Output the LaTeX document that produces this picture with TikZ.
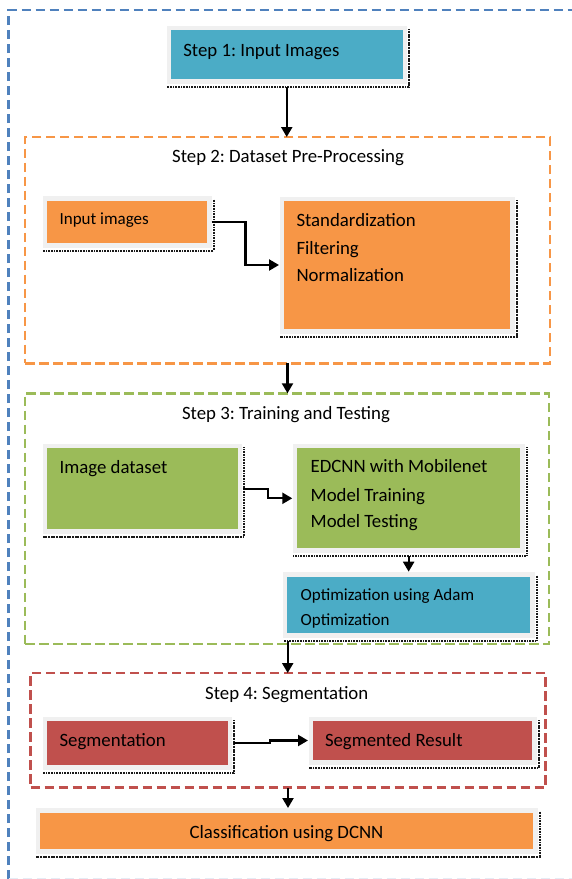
\documentclass[tikz,border=0pt]{standalone}
\usepackage{fontspec}
\setmainfont{Carlito}
\usetikzlibrary{calc,arrows.meta}
\definecolor{cteal}{HTML}{4BACC6}
\definecolor{corange}{HTML}{F79646}
\definecolor{cgreen}{HTML}{9BBB59}
\definecolor{cred}{HTML}{C0504D}
\definecolor{cblue}{HTML}{4F81BD}
\definecolor{cframe}{HTML}{F0F0F0}
\tikzset{
  boxnode/.style={rectangle, inner sep=0pt, outer sep=0pt, fill=#1,
    preaction={draw=cframe, line width=9pt}},
  secbox/.style={rectangle, inner sep=0pt, outer sep=0pt, draw=#1,
    line width=2.6pt, dash pattern=on 9.5pt off 4.5pt},
  shd/.style={draw=black!90, line width=2pt, dash pattern=on 1.1pt off 0.5pt},
  txt/.style={inner sep=0pt, outer sep=0pt, font=\fontsize{18.8}{22}\selectfont},
  txts/.style={inner sep=0pt, outer sep=0pt, font=\fontsize{17}{20}\selectfont},
  arr/.style={draw=black, line width=2.2pt, -{Triangle[length=10pt,width=11pt]}},
}
\newcommand\boxshade[1]{\draw[shd] ($(#1.north east)+(6.5,-1)$) -- ($(#1.south east)+(6.5,7.5)$) -- ($(#1.south west)+(-4,7.5)$);}
\begin{document}
\frenchspacing
\begin{tikzpicture}[x=1pt,y=-1pt]
\useasboundingbox (0,0) rectangle (571,879);
% outer blue dashed frame
\coordinate (ob1) at (8.7,879);
\coordinate (ob2) at (8.7,10);
\coordinate (ob3) at (580,10);
\draw[draw=cblue, line width=2.6pt, dash pattern=on 9.5pt off 4.5pt] (ob1) -- (ob2) -- (ob3);
\coordinate (bb1) at (8.7,878.5);
\coordinate (bb2) at (580,878.5);
\draw[draw=cblue!15, line width=1.5pt, dash pattern=on 9.5pt off 4.5pt] (bb1) -- (bb2);

% section frames
\node[secbox=corange, minimum width=525pt, minimum height=226.3pt] (sec2) at (287.5,250.15) {};
\node[secbox=cgreen, minimum width=524pt, minimum height=250.7pt] (sec3) at (287,518.65) {};
\node[secbox=cred, minimum width=515pt, minimum height=114.7pt] (sec4) at (288,730.35) {};

% boxes
\node[boxnode=cteal, minimum width=231.5pt, minimum height=49.3pt] (s1) at (286.75,54.65) {};
\node[boxnode=corange, minimum width=160pt, minimum height=42.6pt] (inp) at (127,222) {};
\node[boxnode=corange, minimum width=226pt, minimum height=128pt] (std) at (397,265) {};
\node[boxnode=cgreen, minimum width=190.5pt, minimum height=81pt] (img) at (142.25,488.8) {};
\node[boxnode=cgreen, minimum width=222.7pt, minimum height=100pt] (edc) at (408.65,498.3) {};
\node[boxnode=cteal, minimum width=242.7pt, minimum height=56.6pt] (opt) at (408.65,605) {};
\node[boxnode=cred, minimum width=180.3pt, minimum height=44.3pt] (seg) at (137.55,743.15) {};
\node[boxnode=cred, minimum width=219pt, minimum height=39pt] (res) at (422.5,740.5) {};
\node[boxnode=corange, minimum width=493pt, minimum height=36.7pt] (cls) at (286.5,830.85) {};
\boxshade{s1}\boxshade{inp}\boxshade{std}\boxshade{img}\boxshade{edc}
\boxshade{opt}\boxshade{seg}\boxshade{res}\boxshade{cls}

% texts
\node[txt, anchor=base west] (t1) at (183.3,56) {Step 1: Input Images};
\node[txt, anchor=base] (t2) at (288,162.7) {Step 2: Dataset Pre-Processing};
\node[txts, anchor=base west] (tinp) at (59.6,224.8) {Input images};
\node[txt, anchor=base west] (tstda) at (296.5,226) {Standardization};
\node[txt, anchor=base west] (tstdb) at (296.5,254.3) {Filtering};
\node[txt, anchor=base west] (tstdc) at (296.5,281) {Normalization};
\node[txt, anchor=base] (t3) at (286,419.3) {Step 3: Training and Testing};
\node[txt, anchor=base west] (timg) at (59.6,473.3) {Image dataset};
\node[txt, anchor=base west] (tedca) at (310.7,472.7) {EDCNN with Mobilenet};
\node[txt, anchor=base west] (tedcb) at (310.7,501) {Model Training};
\node[txt, anchor=base west] (tedcc) at (310.7,527.7) {Model Testing};
\node[txts, anchor=base west] (topta) at (300.7,600.5) {Optimization using Adam};
\node[txts, anchor=base west] (toptb) at (300.7,625.5) {Optimization};
\node[txt, anchor=base] (t4) at (286.7,699.3) {Step 4: Segmentation};
\node[txt, anchor=base west] (tseg) at (59.6,746) {Segmentation};
\node[txt, anchor=base west] (tres) at (325,746) {Segmented Result};
\node[txt, anchor=base] (tcls) at (286.5,838.7) {Classification using DCNN};

% connectors
\coordinate (s1b) at ($(s1.south)+(0,7.5)$);
\draw[arr] (s1b) -- (s1b |- sec2.north);
\draw[arr] ($(inp.east)+(4.5,0)$) -| ($(std.west)+(-38.5,0)$) -- ($(std.west)+(-5,0)$);
\draw[arr] (sec2.south) -- (sec2.south |- sec3.north);
\draw[arr] ($(img.east)+(5,0)$) -| ($(edc.west)+(-29,0)$) -- ($(edc.west)+(-5,0)$);
\draw[arr] ($(edc.south)+(0,8)$) -- ($(opt.north)+(0,-5)$);
\coordinate (optb) at ($(opt.south west)+(0.4,7.5)$);
\draw[arr] (optb) -- (optb |- sec4.north);
\draw[arr] ($(seg.east)+(6,0)$) -| ($(res.west)+(-43,0)$) -- ($(res.west)+(-5,0)$);
\coordinate (clstop) at ($(cls.north)+(0,-4.5)$);
\draw[arr] (sec4.south) -- (sec4.south |- clstop);
\end{tikzpicture}
\end{document}
